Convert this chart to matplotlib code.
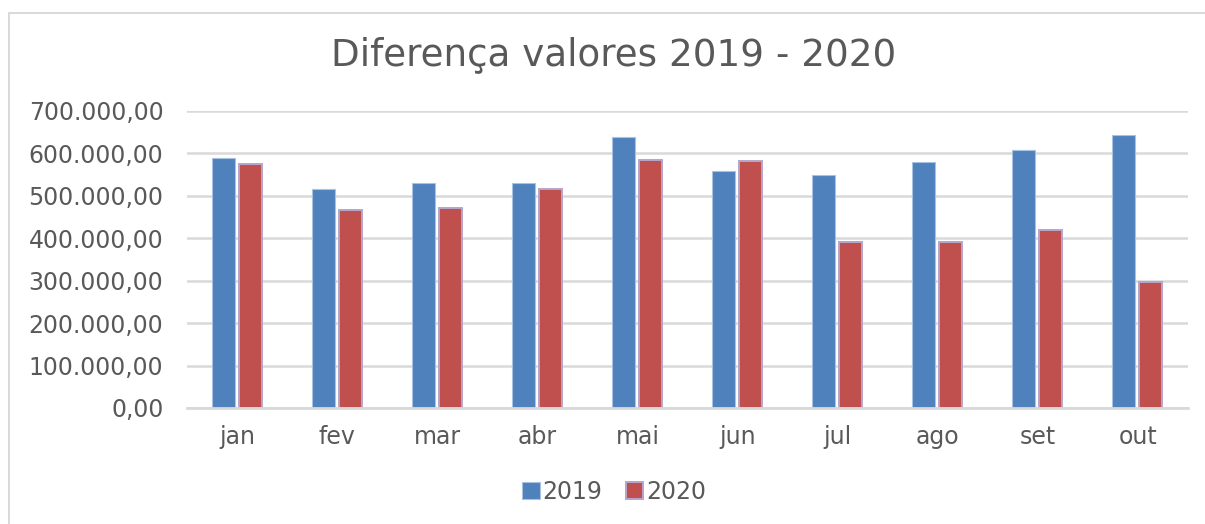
import numpy as np
import matplotlib
matplotlib.use("Agg")
import matplotlib.pyplot as plt
from matplotlib.lines import Line2D
from matplotlib.patches import Rectangle
from matplotlib.ticker import FuncFormatter

meses = ["jan", "fev", "mar", "abr", "mai", "jun", "jul", "ago", "set", "out"]
v2019 = [590000, 516000, 530000, 531000, 638000, 559000, 549000, 580000, 607000, 643000]
v2020 = [575000, 466000, 471000, 516000, 585000, 581000, 391000, 392000, 420000, 297000]

AZUL = "#4F81BD"
VERMELHO = "#C0504D"
CINZA_TXT = "#595959"
CINZA_GRADE = "#D9D9D9"


def fmt_br(v, _pos=None):
    # formato brasileiro: 700.000,00
    s = f"{v:,.2f}"
    return s.replace(",", "X").replace(".", ",").replace("X", ".")


fig = plt.figure(figsize=(12.05, 5.24), dpi=100)
# moldura do gráfico (só topo e esquerda aparecem no recorte)
x0, y0 = 8.5 / 1205, 1 - 12.5 / 524
fig.lines.append(Line2D([x0, 1], [y0, y0], transform=fig.transFigure, color=CINZA_GRADE, lw=1.4))
fig.lines.append(Line2D([x0, x0], [0, y0], transform=fig.transFigure, color=CINZA_GRADE, lw=1.4))

ax = fig.add_axes([187 / 1205, 116 / 524, 1001 / 1205, 297 / 524])
x = np.arange(len(meses))
w = 0.23
ax.bar(x - 0.14, v2019, width=w, color=AZUL, edgecolor="#A9C2E2", linewidth=0.8, zorder=3)
ax.bar(x + 0.13, v2020, width=w, color=VERMELHO, edgecolor="#B7A5CC", linewidth=1.4, zorder=3)

ax.set_xlim(-0.5, len(meses) - 0.5)
ax.set_ylim(0, 700000)
ax.set_yticks(np.arange(0, 700001, 100000))
ax.yaxis.set_major_formatter(FuncFormatter(fmt_br))
ax.set_xticks(x)
ax.set_xticklabels(meses)
ax.tick_params(length=0, labelsize=17, labelcolor=CINZA_TXT, pad=12)
ax.tick_params(axis="y", pad=17)
ax.grid(axis="y", color=CINZA_GRADE, linewidth=1.8, zorder=0)
for lado in ["top", "right", "left"]:
    ax.spines[lado].set_visible(False)
ax.spines["bottom"].set_color(CINZA_GRADE)
ax.spines["bottom"].set_linewidth(2)
ax.spines["bottom"].set_zorder(4)

fig.text(614 / 1205, 1 - 55 / 524, "Diferença valores 2019 - 2020", ha="center", va="center",
         fontsize=26.8, color=CINZA_TXT)

h1 = Rectangle((0, 0), 1, 1, facecolor=AZUL, edgecolor="#A9C2E2", linewidth=0.8)
h2 = Rectangle((0, 0), 1, 1, facecolor=VERMELHO, edgecolor="#B7A5CC", linewidth=1.4)
fig.legend([h1, h2], ["2019", "2020"], loc="center", bbox_to_anchor=(614 / 1205, 1 - 492 / 524),
           ncol=2, frameon=False, fontsize=17, labelcolor=CINZA_TXT,
           handlelength=0.75, handleheight=0.75, handletextpad=0.1, columnspacing=1.0)

fig.savefig("out.png", dpi=100)
